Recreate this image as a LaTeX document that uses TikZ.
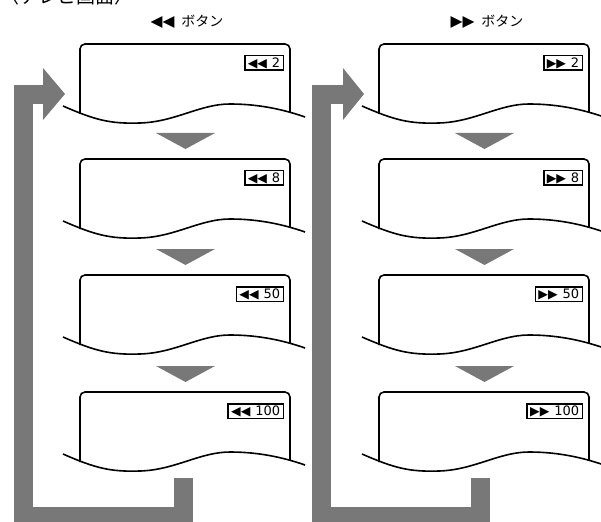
\documentclass[tikz,border=0pt]{standalone}
\usepackage{fontspec}
\setmainfont{DejaVu Sans}
\newfontfamily\jp{Noto Sans CJK JP}
\newfontfamily\sym{DejaVu Sans}
\definecolor{arrgray}{HTML}{787878}
\begin{document}
\begin{tikzpicture}[x=1pt,y=-1pt,
  panel/.style={line width=1.6pt,black},
  lab/.style={draw,line width=1.5pt,inner xsep=3pt,inner ysep=0.8pt,minimum height=14.5pt,font=\fontsize{13}{13}\selectfont},
  downtri/.style={fill=arrgray},
  backbar/.style={line width=19pt,draw=arrgray,line join=miter},
  backhead/.style={fill=arrgray}]
\useasboundingbox (0,0) rectangle (601,521);
\node[anchor=base west,inner sep=0] (title) at (0,4) {\jp\fontsize{19}{19}\selectfont 〈テレビ画面〉};
\node[anchor=base,inner sep=0] (hL) at (187,27) {{\sym\fontsize{15.5}{15}\selectfont ◀◀}\hspace{7pt}{\jp\fontsize{14}{14}\selectfont ボタン}};
\node[anchor=base,inner sep=0] (hR) at (487,27) {{\sym\fontsize{15.5}{15}\selectfont ▶▶}\hspace{7pt}{\jp\fontsize{14}{14}\selectfont ボタン}};
% back loops
\draw[backbar] (183.5,478) |- (23.5,516.5) |- (43,94.5);
\fill[backhead] (43,68) -- (65,94) -- (43,120) -- cycle;
\draw[backbar] (480.5,478) |- (321.5,516.5) |- (343,94.5);
\fill[backhead] (343,68) -- (364,94) -- (343,120) -- cycle;
% panels
\foreach \dx/\tri/\s in {0/◀/L,299/▶/R}{
  \foreach \T/\n in {44/2,159/8,275/50,392/100}{
    \draw[panel,rounded corners=5pt] ({\dx+80},{\T+70}) -- ({\dx+80},\T) -- ({\dx+290},\T) -- ({\dx+290},{\T+68});
    \draw[panel] ({\dx+63},{\T+62}) .. controls ({\dx+95},{\T+76}) and ({\dx+110},{\T+80}) .. ({\dx+140},{\T+79})
       .. controls ({\dx+175},{\T+78}) and ({\dx+200},{\T+60}) .. ({\dx+230},{\T+60})
       .. controls ({\dx+260},{\T+60}) and ({\dx+285},{\T+66}) .. ({\dx+305},{\T+73});
    \node[lab,anchor=north east] (\s\n) at ({\dx+284},{\T+11}) {{\fontsize{12.5}{13}\selectfont\tri\tri}\hspace{5pt}\n};
  }
  \foreach \T in {159,275,392}{
    \fill[downtri] ({\dx+156},{\T-26}) -- ({\dx+215},{\T-26}) -- ({\dx+185.5},{\T-10}) -- cycle;
  }
}
\end{tikzpicture}
\end{document}
